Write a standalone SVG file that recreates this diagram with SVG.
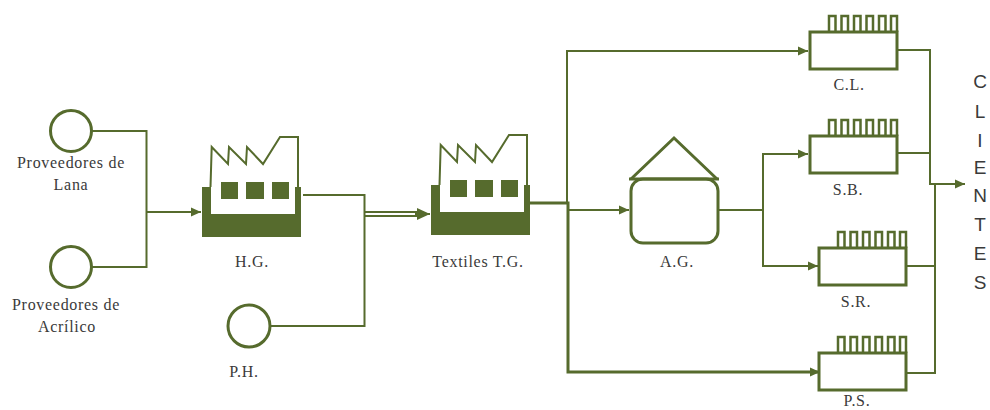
<svg xmlns="http://www.w3.org/2000/svg" width="990" height="410" viewBox="0 0 990 410">
<style>
.l{fill:none;stroke:#566b2d;stroke-width:2}
.t{fill:none;stroke:#566b2d;stroke-width:3}
.s{fill:#fff;stroke:#566b2d;stroke-width:3}
.f{fill:#566b2d}
.w{fill:#fff}
text{font-family:"Liberation Serif",serif;font-size:16px;letter-spacing:.7px;fill:#3a3a3a;text-anchor:middle}
.c{font-family:"Liberation Sans",sans-serif;font-size:19px;letter-spacing:0}
</style>
<defs>
<marker id="a" markerUnits="userSpaceOnUse" markerWidth="11" markerHeight="10" refX="10" refY="5" orient="auto"><path d="M0 0.500L10 5L0 9.500Z" fill="#566b2d"/></marker>
<marker id="b" markerUnits="userSpaceOnUse" markerWidth="14" markerHeight="12" refX="13" refY="6" orient="auto"><path d="M0 0L13 6L0 12Z" fill="#566b2d"/></marker>
<g id="factory"><rect class="f" x="0" y="0" width="99" height="50"/><rect class="w" x="9" y="-2" width="84" height="29"/><rect class="f" x="0" y="0" width="9" height="27"/><rect class="f" x="93" y="0" width="6" height="27"/><rect class="f" x="19" y="-5" width="17" height="17"/><rect class="f" x="44" y="-5" width="18" height="17"/><rect class="f" x="70" y="-5" width="17" height="17"/><path class="l" d="M8.500 0L9.700 -40L26 -23L27 -40L44 -23L45 -40L61 -23L78 -50L96 -50L96 0"/></g>
<g id="store"><path fill="none" stroke="#566b2d" stroke-width="2.500" d="M19 0V-16H25.500V0M31.500 0V-16H38V0M44 0V-16H50.500V0M56.500 0V-16H63V0M69 0V-16H75.500V0M81 0V-16H87V0"/><rect x="0" y="0" width="87" height="37" fill="#fff" stroke="#566b2d" stroke-width="3"/></g>
</defs>
<g id="connectors">
<path class="l" d="M91 131H146.500V267H91"/>
<path class="l" d="M146 212H201" marker-end="url(#a)"/>
<path class="l" d="M303 195H364.500V326H271"/>
<path class="l" d="M364 212H420M364 216H420"/>
<path class="l" d="M415 214H430" marker-end="url(#b)"/>
<path class="t" d="M530 203H568V372H820" marker-end="url(#a)"/>
<path class="l" d="M567 203V51H808" marker-end="url(#a)"/>
<path class="l" d="M568 210H629" marker-end="url(#a)"/>
<path class="l" d="M718 210H763"/>
<path class="l" d="M763 210V154H808" marker-end="url(#a)"/>
<path class="l" d="M763 210V266H818" marker-end="url(#a)"/>
<path class="l" d="M897 50H930V153H897"/>
<path class="l" d="M930 153V184H965" marker-end="url(#a)"/>
<path class="l" d="M935 185V373H905M905 266H935"/>
</g>
<g id="prov-lana"><circle class="s" cx="71" cy="131" r="20.500"/><text x="71" y="168">Proveedores de</text><text x="71" y="190">Lana</text></g>
<g id="prov-acrilico"><circle class="s" cx="71" cy="267" r="20.500"/><text x="66" y="310">Proveedores de</text><text x="67" y="332">Acrílico</text></g>
<g id="hg"><use href="#factory" x="202" y="187"/><text x="252" y="267">H.G.</text></g>
<g id="ph"><circle class="s" cx="249" cy="326" r="21"/><text x="244" y="377">P.H.</text></g>
<g id="tg"><use href="#factory" x="431" y="185"/><text x="478" y="267">Textiles T.G.</text></g>
<g id="ag"><path class="t" d="M631 179L674 138L717 179"/><rect class="s" x="631" y="179" width="87" height="64" rx="12"/><path class="t" d="M629 179H719"/><text x="677" y="267">A.G.</text></g>
<g id="cl"><use href="#store" x="810" y="32"/><text x="849" y="90">C.L.</text></g>
<g id="sb"><use href="#store" x="810" y="136"/><text x="848" y="195">S.B.</text></g>
<g id="sr"><use href="#store" x="819" y="248"/><text x="856" y="307">S.R.</text></g>
<g id="ps"><use href="#store" x="819" y="353"/><text x="857" y="406">P.S.</text></g>
<g id="clientes"><text class="c" x="980" y="88">C</text><text class="c" x="980" y="118">L</text><text class="c" x="980" y="147">I</text><text class="c" x="980" y="174">E</text><text class="c" x="980" y="202">N</text><text class="c" x="980" y="231">T</text><text class="c" x="980" y="260">E</text><text class="c" x="980" y="289">S</text></g>
</svg>
